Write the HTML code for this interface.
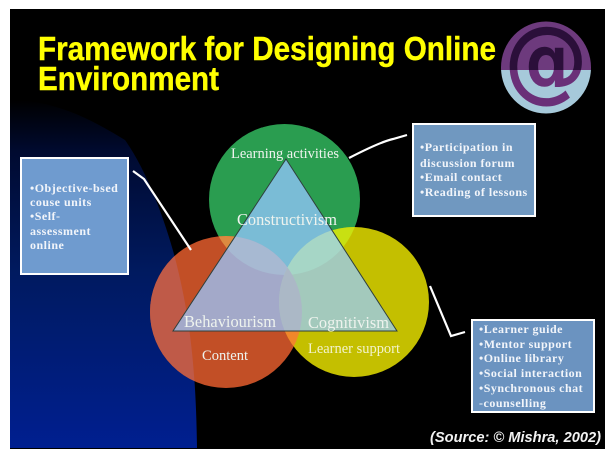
<!DOCTYPE html>
<html>
<head>
<meta charset="utf-8">
<style>
html,body{margin:0;padding:0;background:#fff;width:612px;height:458px;overflow:hidden}
svg{display:block;filter:blur(.35px)}
.s{font-family:"Liberation Serif",serif;fill:#eef3ee}
.b{font-family:"Liberation Serif",serif;font-weight:bold;font-size:12px;fill:#f2f5fa;letter-spacing:.5px}
</style>
</head>
<body>
<svg width="612" height="458" viewBox="0 0 612 458" xmlns="http://www.w3.org/2000/svg">
<defs>
<linearGradient id="bg" x1="0" y1="100" x2="0" y2="448" gradientUnits="userSpaceOnUse">
<stop offset="0" stop-color="#000000"/><stop offset=".15" stop-color="#000a30"/><stop offset=".5" stop-color="#001a60"/><stop offset="1" stop-color="#001f90"/>
</linearGradient>
<linearGradient id="at" x1="0" y1="-70.5" x2="0" y2="24.5" gradientUnits="userSpaceOnUse">
<stop offset=".526" stop-color="#2b0f3a"/><stop offset=".526" stop-color="#6a2f78"/>
</linearGradient>
<clipPath id="cG"><circle cx="284.5" cy="199.5" r="75.5"/></clipPath>
<clipPath id="cR"><circle cx="226" cy="312" r="76"/></clipPath>
<clipPath id="cY"><circle cx="354" cy="302" r="75"/></clipPath>
<clipPath id="cT"><polygon points="286,159 173,331 397,331"/></clipPath>
<clipPath id="cB"><path d="M10,100 C60,100 100,125 125,140 C150,175 170,235 178,270 C190,320 196,370 197,448 L10,448 Z"/></clipPath>
<clipPath id="top"><rect x="490" y="15" width="115" height="55"/></clipPath>
<clipPath id="bot"><rect x="490" y="70" width="115" height="60"/></clipPath>
</defs>

<rect x="10" y="9" width="595" height="440" fill="#000"/>
<path d="M10,100 C60,100 100,125 125,140 C150,175 170,235 178,270 C190,320 196,370 197,448 L10,448 Z" fill="url(#bg)"/>

<!-- Logo -->
<ellipse cx="546" cy="67.5" rx="45" ry="46" fill="#6d3a7d" clip-path="url(#top)"/>
<ellipse cx="546" cy="67.5" rx="45" ry="46" fill="#a6c9da" clip-path="url(#bot)"/>
<text transform="translate(546 90.5) scale(.92 1)" text-anchor="middle" font-family="DejaVu Sans, sans-serif" font-weight="bold" font-size="91" fill="url(#at)">@</text>

<!-- Title -->
<text x="38" y="60" font-family="Liberation Sans, sans-serif" font-weight="bold" font-size="33" fill="#ffff00" stroke="#ffff00" stroke-width=".4" textLength="458" lengthAdjust="spacingAndGlyphs">Framework for Designing Online</text>
<text x="38" y="90" font-family="Liberation Sans, sans-serif" font-weight="bold" font-size="33" fill="#ffff00" stroke="#ffff00" stroke-width=".4" textLength="181" lengthAdjust="spacingAndGlyphs">Environment</text>

<!-- Circles -->
<circle cx="284.5" cy="199.5" r="75.5" fill="#2a9d50"/>
<circle cx="226" cy="312" r="76" fill="#c24f26"/>
<circle cx="226" cy="312" r="76" fill="#bf5a48" clip-path="url(#cB)"/>
<circle cx="354" cy="302" r="75" fill="#c4bf00"/>
<g clip-path="url(#cG)">
<circle cx="226" cy="312" r="76" fill="#dc8a40"/>
<circle cx="354" cy="302" r="75" fill="#c8e012"/>
</g>
<g clip-path="url(#cR)"><circle cx="354" cy="302" r="75" fill="#f0872a"/></g>

<!-- Triangle interior -->
<polygon points="286,159 173,331 397,331" fill="#7abcd6"/>
<g clip-path="url(#cT)">
<circle cx="226" cy="312" r="76" fill="#a3a9c9"/>
<circle cx="354" cy="302" r="75" fill="#a3c9bc"/>
<g clip-path="url(#cG)">
<circle cx="226" cy="312" r="76" fill="#a7b9d2"/>
<circle cx="354" cy="302" r="75" fill="#a6d6c6"/>
</g>
<g clip-path="url(#cR)"><circle cx="354" cy="302" r="75" fill="#abb8c6"/></g>
</g>
<polygon points="286,159 173,331 397,331" fill="none" stroke="#2f3f3c" stroke-width="1"/>

<!-- Connectors -->
<g fill="none" stroke="#fff" stroke-width="2.2">
<polyline points="133,171 144,179 191,250"/>
<path d="M349,158 Q380,142 393,139 L407,135"/>
<polyline points="430,286 451,336 465,332"/>
</g>

<!-- Circle labels -->
<text class="s" x="231" y="158" font-size="15" textLength="108" lengthAdjust="spacingAndGlyphs">Learning activities</text>
<text class="s" x="237" y="225" font-size="17" textLength="100" lengthAdjust="spacingAndGlyphs">Constructivism</text>
<text class="s" x="184" y="327" font-size="17" textLength="92" lengthAdjust="spacingAndGlyphs">Behaviourism</text>
<text class="s" x="308" y="328" font-size="17" textLength="81" lengthAdjust="spacingAndGlyphs">Cognitivism</text>
<text class="s" x="202" y="360" font-size="15" textLength="46" lengthAdjust="spacingAndGlyphs">Content</text>
<text class="s" x="308" y="353" font-size="14.5" textLength="92" lengthAdjust="spacingAndGlyphs" style="fill:#f3f3cc">Learner support</text>

<!-- Box left -->
<rect x="21" y="158" width="107" height="116" fill="#6f9bcf" stroke="#fff" stroke-width="2"/>
<text class="b" x="30" y="192">•Objective-bsed</text>
<text class="b" x="30" y="206">couse units</text>
<text class="b" x="30" y="220">•Self-</text>
<text class="b" x="30" y="235">assessment</text>
<text class="b" x="30" y="249">online</text>

<!-- Box top right -->
<rect x="413" y="124" width="122" height="92" fill="#7098c0" stroke="#fff" stroke-width="2"/>
<text class="b" x="420" y="151">•Participation in</text>
<text class="b" x="420" y="167">discussion forum</text>
<text class="b" x="420" y="181">•Email contact</text>
<text class="b" x="420" y="196">•Reading of lessons</text>

<!-- Box bottom right -->
<rect x="472" y="320" width="122" height="92" fill="#6b93c0" stroke="#fff" stroke-width="2"/>
<text class="b" x="479" y="333">•Learner guide</text>
<text class="b" x="479" y="348">•Mentor support</text>
<text class="b" x="479" y="362">•Online library</text>
<text class="b" x="479" y="377">•Social interaction</text>
<text class="b" x="479" y="392">•Synchronous chat</text>
<text class="b" x="479" y="407">-counselling</text>

<!-- Source -->
<text x="430" y="442" font-family="Liberation Sans, sans-serif" font-weight="bold" font-style="italic" font-size="14.5" fill="#f2f2f2" textLength="171" lengthAdjust="spacingAndGlyphs">(Source: © Mishra, 2002)</text>
</svg>
</body>
</html>
